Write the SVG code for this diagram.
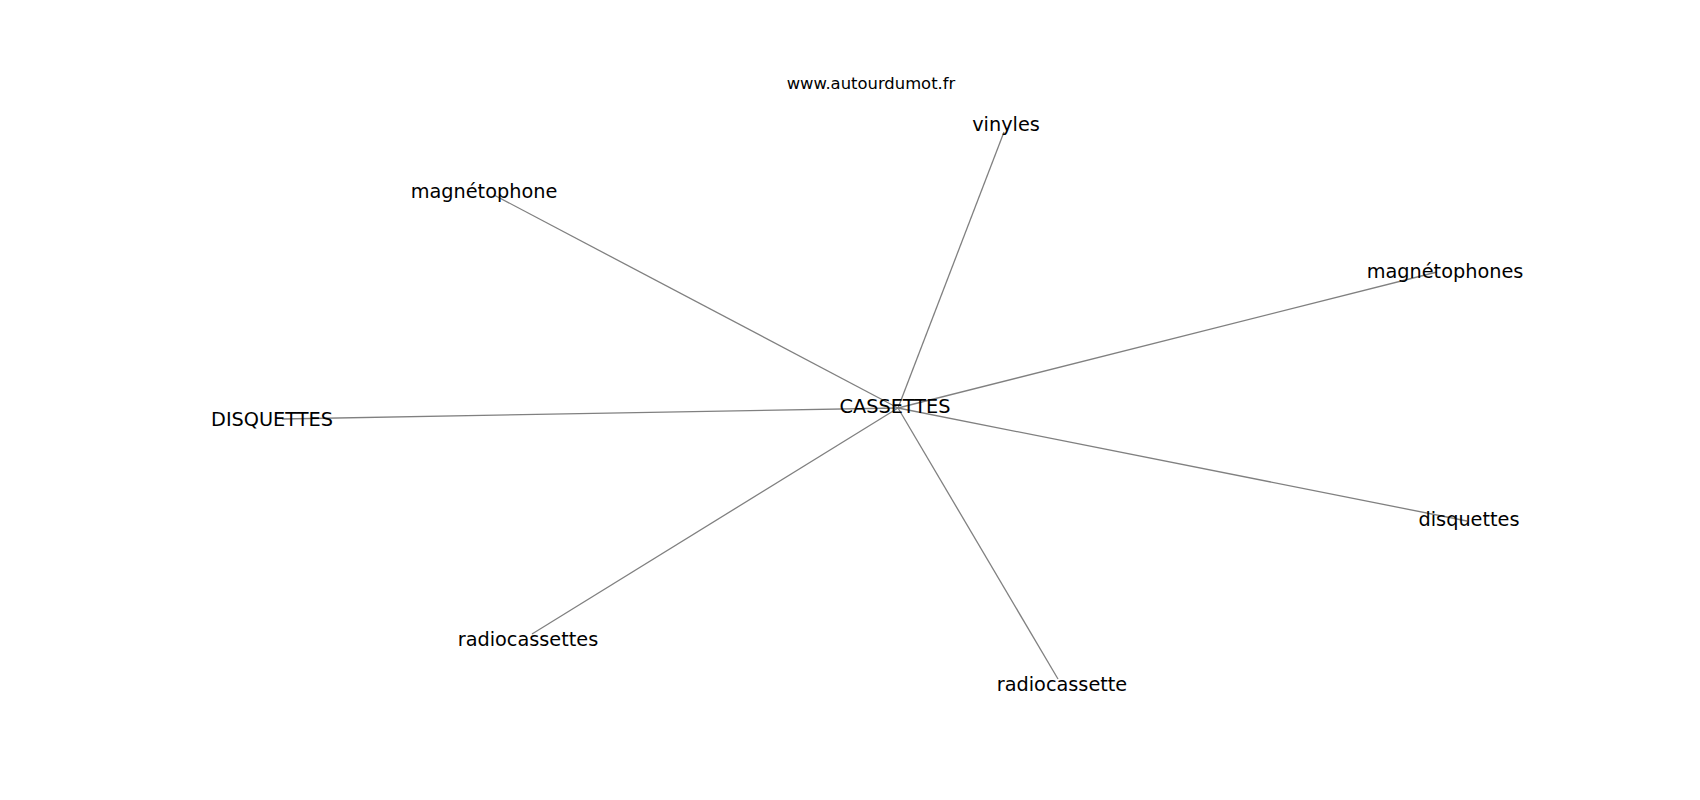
<svg xmlns="http://www.w3.org/2000/svg" width="1700" height="800" viewBox="0 0 1700 800">
<style>
.e{stroke:#808080;stroke-width:1.3;fill:none}
.n{font-family:"DejaVu Sans",sans-serif;font-size:19.3px;fill:#000;text-anchor:middle}
.t{font-family:"DejaVu Sans",sans-serif;font-size:16.4px;fill:#000;text-anchor:middle}
</style>
<rect width="1700" height="800" fill="#fff"/>
<g id="edges">
<line class="e" x1="898" y1="408" x2="1004" y2="132"/>
<line class="e" x1="898" y1="408" x2="494" y2="195"/>
<line class="e" x1="898" y1="408" x2="1437" y2="272"/>
<line class="e" x1="898" y1="408" x2="282" y2="419"/>
<line class="e" x1="898" y1="408" x2="1467" y2="521"/>
<line class="e" x1="898" y1="408" x2="532" y2="634"/>
<line class="e" x1="898" y1="408" x2="1058" y2="679"/>
</g>
<text class="t" x="871" y="88.5">www.autourdumot.fr</text>
<g id="n-cassettes"><text class="n" x="895" y="413">CASSETTES</text></g>
<g id="n-vinyles"><text class="n" x="1006" y="131">vinyles</text></g>
<g id="n-magnetophone"><text class="n" x="484" y="198">magnétophone</text></g>
<g id="n-magnetophones"><text class="n" x="1445" y="278">magnétophones</text></g>
<g id="n-DISQUETTES"><text class="n" x="272" y="426">DISQUETTES</text></g>
<g id="n-disquettes"><text class="n" x="1469" y="526">disquettes</text></g>
<g id="n-radiocassettes"><text class="n" x="528" y="646">radiocassettes</text></g>
<g id="n-radiocassette"><text class="n" x="1062" y="691">radiocassette</text></g>
</svg>
